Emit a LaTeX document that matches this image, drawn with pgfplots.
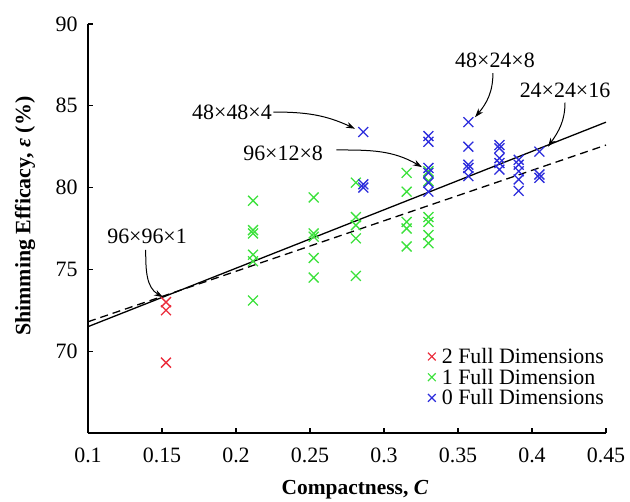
\documentclass[border=0pt]{standalone}
\usepackage{fontspec}
\setmainfont{Liberation Serif}
\usepackage{pgfplots}
\pgfplotsset{compat=1.18}
\usetikzlibrary{arrows.meta}
\definecolor{cred}{RGB}{235,45,60}
\definecolor{cgreen}{RGB}{60,225,60}
\definecolor{cblue}{RGB}{45,45,220}
\begin{document}
\begin{tikzpicture}
\begin{axis}[
  scale only axis, width=518bp, height=409bp,
  xmin=0.1, xmax=0.45, ymin=65, ymax=90,
  axis lines=left, axis line style={-, line width=1.3bp},
  tick align=inside, major tick length=5bp,
  tick style={line width=1.2bp, black},
  xtick={0.1,0.15,0.2,0.25,0.3,0.35,0.4,0.45},
  xticklabels={0.1,0.15,0.2,0.25,0.3,0.35,0.4,0.45},
  ytick={70,75,80,85,90},
  yticklabels={70,75,80,85,90},
  /pgf/number format/assume math mode=true,
  font=\fontsize{22}{26}\selectfont,
  xticklabel style={anchor=center, yshift=-22bp},
  yticklabel style={anchor=east, xshift=-7bp},
  xlabel={\textbf{Compactness, \textit{C}}},
  ylabel={\textbf{Shimming Efficacy, \textit{ε} (\%)}},
  xlabel style={at={(rel axis cs:0.5,0)}, anchor=center, yshift=-57bp, xshift=8bp, font=\fontsize{21.5}{25}\selectfont},
  ylabel style={at={(rel axis cs:0,0.53)}, anchor=center, yshift=63bp, font=\fontsize{22}{25}\selectfont},
  clip=false,
  legend style={draw=none, fill=none, at={(rel axis cs:1,0.06)}, anchor=south east,
    font=\fontsize{22}{24}\selectfont, row sep=0bp, inner sep=0pt},
  legend cell align=left,
  legend image code/.code={\draw[mark size=5.5bp, line width=1.2bp] plot coordinates {(0cm,0cm)}; \path[draw=none, fill=none] (-6bp,0) -- (8bp,0);},
]
\coordinate (sw) at (rel axis cs:0,0);
\coordinate (ne) at (rel axis cs:1,1);
\addplot[only marks, mark=x, mark size=7bp, cred, line width=1.3bp] coordinates {
 (0.1527,73.0) (0.1527,72.5) (0.1527,69.3)
};
\addlegendentry{2 Full Dimensions}
\addplot[only marks, mark=x, mark size=7bp, cgreen, line width=1.3bp] coordinates {
 (0.2115,79.2) (0.2115,77.4) (0.2115,77.2) (0.2115,75.9) (0.2115,75.5) (0.2115,73.1)
 (0.2525,79.4) (0.2525,77.2) (0.2525,77.0) (0.2525,75.7) (0.2525,74.5)
 (0.281,80.3) (0.281,78.2) (0.281,77.7) (0.281,76.9) (0.281,74.6)
 (0.3153,80.9) (0.3153,79.75) (0.3153,77.9) (0.3153,77.5) (0.3153,76.4)
 (0.330,81.0) (0.330,80.4) (0.330,78.2) (0.330,77.9) (0.330,77.1) (0.330,76.6)
};
\addlegendentry{1 Full Dimension}
\addplot[only marks, mark=x, mark size=7bp, cblue, line width=1.3bp] coordinates {
 (0.286,83.4) (0.286,80.2) (0.286,80.0)
 (0.330,83.15) (0.330,82.8) (0.330,81.2) (0.330,80.9) (0.330,80.3) (0.330,79.75)
 (0.357,84.0) (0.357,82.5) (0.357,81.4) (0.357,81.2) (0.357,80.7)
 (0.378,82.6) (0.378,82.4) (0.378,81.8) (0.378,81.5) (0.378,81.1)
 (0.391,81.7) (0.391,81.4) (0.391,81.0) (0.391,80.5) (0.391,79.8)
 (0.405,82.2) (0.405,80.8) (0.405,80.6)
};
\addlegendentry{0 Full Dimensions}
\addplot[black, line width=1.3bp, forget plot] coordinates {(0.1,71.5) (0.45,84.0)};
\addplot[black, line width=1.3bp, dash pattern=on 8bp off 5bp, forget plot] coordinates {(0.1,71.8) (0.45,82.6)};
% annotations
\node[font=\fontsize{22}{26}\selectfont] at (axis cs:0.1399,77.04) {96×96×1};
\draw[-{Stealth[length=9bp,width=6bp]}, line width=1bp] (axis cs:0.139,76.2) to[out=-90,in=150] (axis cs:0.1507,73.3);
\node[font=\fontsize{22}{26}\selectfont] at (axis cs:0.1973,84.62) {48×48×4};
\draw[-{Stealth[length=9bp,width=6bp]}, line width=1bp] (axis cs:0.2253,84.62) to[out=0,in=155] (axis cs:0.2804,83.6);
\node[font=\fontsize{22}{26}\selectfont] at (axis cs:0.2318,82.11) {96×12×8};
\draw[-{Stealth[length=9bp,width=6bp]}, line width=1bp] (axis cs:0.2679,82.3) to[out=0,in=150] (axis cs:0.3257,81.25);
\node[font=\fontsize{22}{26}\selectfont] at (axis cs:0.375,87.8) {48×24×8};
\draw[-{Stealth[length=9bp,width=6bp]}, line width=1bp] (axis cs:0.3736,87.0) to[out=-90,in=50] (axis cs:0.3615,84.3);
\node[font=\fontsize{22}{26}\selectfont] at (axis cs:0.4223,85.97) {24×24×16};
\draw[-{Stealth[length=9bp,width=6bp]}, line width=1bp] (axis cs:0.4223,85.2) to[out=-90,in=55] (axis cs:0.4108,82.5);
\end{axis}
\pgfresetboundingbox
\path ([shift={(-88bp,-69bp)}]sw) rectangle ([shift={(24bp,24bp)}]ne);
\end{tikzpicture}
\end{document}
